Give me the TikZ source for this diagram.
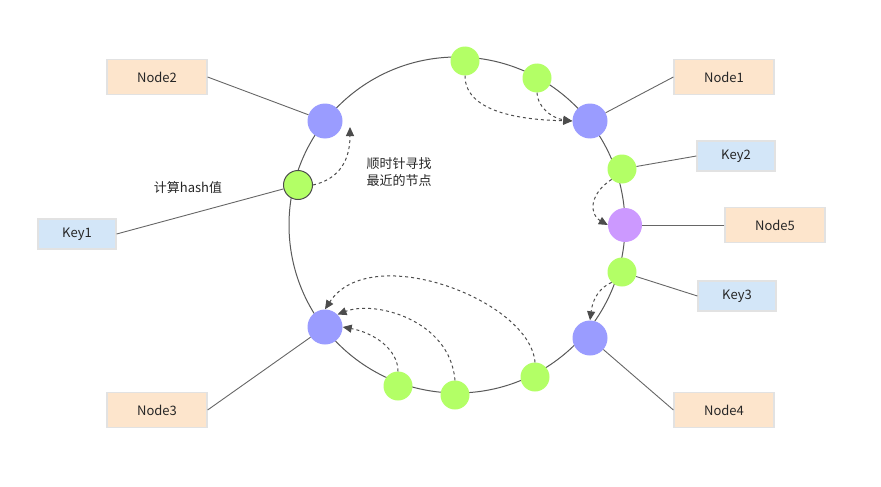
\documentclass[tikz,border=0pt]{standalone}
\usepackage{fontspec}
\setmainfont{Noto Sans CJK SC}
\usetikzlibrary{arrows.meta}
\definecolor{nodefill}{HTML}{FDE5CC}
\definecolor{keyfill}{HTML}{D3E6F8}
\definecolor{boxline}{HTML}{E2E2E2}
\definecolor{bluedot}{HTML}{9A9CFF}
\definecolor{purpdot}{HTML}{CC99FF}
\definecolor{greendot}{HTML}{B3FF66}
\tikzset{
 lbl/.style={draw=boxline,line width=1.2pt,minimum width=100pt,minimum height=35pt,font=\fontsize{13}{15}\selectfont,text=black!85},
 nbox/.style={lbl,fill=nodefill},
 kbox/.style={lbl,fill=keyfill,minimum width=78pt,minimum height=30pt},
 bdot/.style={circle,fill=bluedot,minimum size=35pt,inner sep=0pt},
 pdot/.style={circle,fill=purpdot,minimum size=34pt,inner sep=0pt},
 gdot/.style={circle,fill=greendot,minimum size=29pt,inner sep=0pt},
 conn/.style={draw=black!60,line width=0.9pt},
 darr/.style={draw=black!70,dashed,line width=1pt,-{Triangle[length=9pt,width=8pt]}},
}
\begin{document}
\begin{tikzpicture}[x=1pt,y=-1pt]
\useasboundingbox (0,0) rectangle (881,487);
\draw[black!65,line width=1pt] (457,225) ellipse [x radius=168, y radius=168];
\node[nbox] (n2) at (157,77) {Node2};
\node[nbox] (n1) at (724,77) {Node1};
\node[kbox] (k2) at (736,156) {Key2};
\node[nbox] (n5) at (775,225) {Node5};
\node[kbox] (k3) at (737,296) {Key3};
\node[nbox] (n4) at (724,410) {Node4};
\node[nbox] (n3) at (157,410) {Node3};
\node[kbox] (k1) at (77,234) {Key1};
\node[bdot] (b2) at (325,121) {};
\node[bdot] (b1) at (590,121) {};
\node[bdot] (b3) at (325,327) {};
\node[bdot] (b4) at (590,338) {};
\node[pdot] (p5) at (625,225) {};
\node[gdot] (g1) at (465,61) {};
\node[gdot] (g2) at (537,78) {};
\node[gdot] (g3) at (622,169) {};
\node[gdot] (g4) at (622,272) {};
\node[gdot] (g5) at (398,386) {};
\node[gdot] (g6) at (455,395) {};
\node[gdot] (g7) at (535,377) {};
\node[gdot,draw=black!70,line width=1pt] (gk) at (298,185) {};
\draw[conn] (n2.east) -- (b2);
\draw[conn] (n1.west) -- (b1);
\draw[conn] (k2.west) -- (g3);
\draw[conn] (n5.west) -- (p5);
\draw[conn] (k3.west) -- (g4);
\draw[conn] (n4.west) -- (b4);
\draw[conn] (n3.east) -- (b3);
\draw[conn] (k1.east) -- (gk);
\node[font=\fontsize{13}{15}\selectfont,text=black!85] (lh) at (188,188) {计算hash值};
\node[font=\fontsize{13}{17}\selectfont,text=black!85,align=left] (ls) at (399,172) {顺时针寻找\\最近的节点};
\draw[darr] (g1.south) .. controls (465,115) and (530,120) .. (b1.west);
\draw[darr] (g2.south) .. controls (537,105) and (550,118) .. (b1.west);
\draw[darr] (g3.south west) .. controls (588,195) and (590,215) .. (p5.west);
\draw[darr] (g4.south west) .. controls (595,290) and (592,305) .. (b4.north);
\draw[darr] (gk.east) .. controls (335,180) and (350,165) .. (350,127);
\draw[darr] (g5.north) .. controls (398,350) and (375,333) .. (b3.east);
\draw[darr] (g6.north) .. controls (450,320) and (375,300) .. (b3.north east);
\draw[darr] (g7.north) .. controls (530,300) and (370,240) .. (b3.north);
\end{tikzpicture}
\end{document}
